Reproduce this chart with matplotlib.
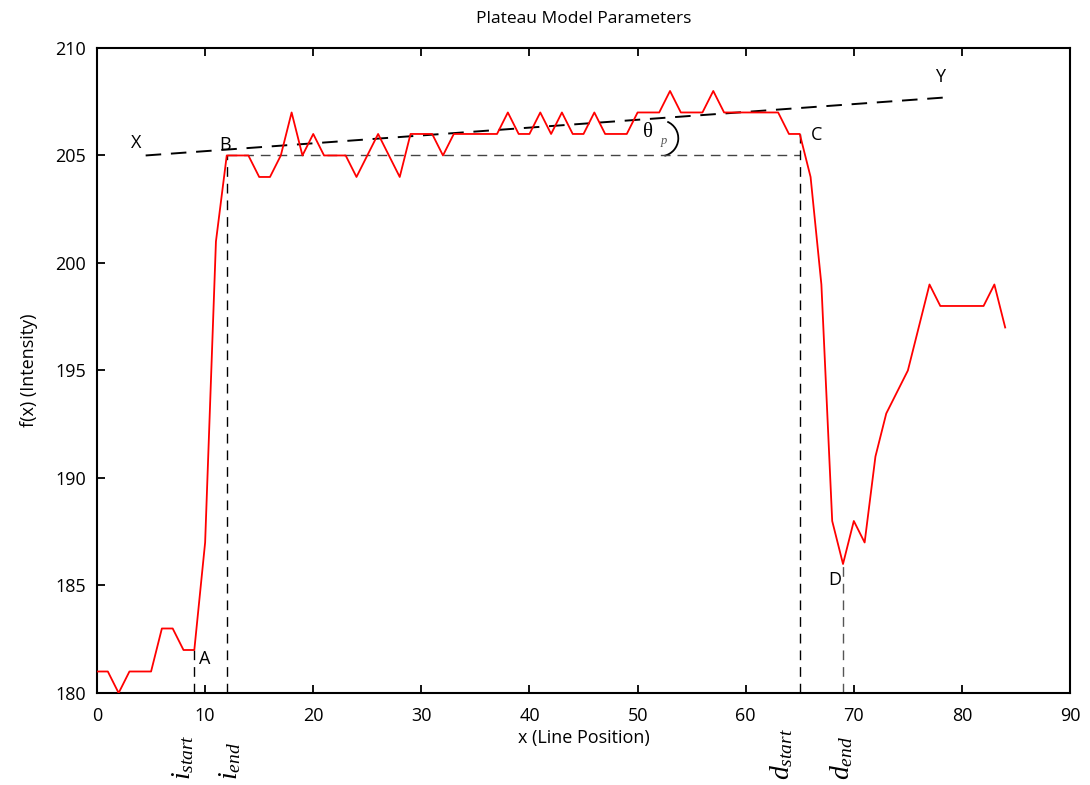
import matplotlib
matplotlib.use("Agg")
import matplotlib.pyplot as plt
from matplotlib.patches import Arc
import matplotlib.transforms as mtransforms

plt.rcParams['font.family'] = ['Open Sans', 'DejaVu Sans']
plt.rcParams['mathtext.fontset'] = 'custom'
plt.rcParams['mathtext.rm'] = 'Liberation Serif'
plt.rcParams['mathtext.it'] = 'Liberation Serif:italic'

# ---- data ----
x_pos = list(range(0, 85))
intensity = [181, 181, 180, 181, 181, 181, 183, 183, 182, 182,
             187, 201, 205, 205, 205, 204, 204, 205, 207, 205,
             206, 205, 205, 205, 204, 205, 206, 205, 204, 206,
             206, 206, 205, 206, 206, 206, 206, 206, 207, 206,
             206, 207, 206, 207, 206, 206, 207, 206, 206, 206,
             207, 207, 207, 208, 207, 207, 207, 208, 207, 207,
             207, 207, 207, 207, 206, 206, 204, 199, 188, 186,
             188, 187, 191, 193, 194, 195, 197, 199, 198, 198,
             198, 198, 198, 199, 197]

i_start, i_end = 9, 12
d_start, d_end = 65, 69
plateau_level = 205
xy_x = [4.5, 78.5]
xy_y = [205.0, 207.7]

x_ticks = [0, 10, 20, 30, 40, 50, 60, 70, 80, 90]
y_ticks = [180, 185, 190, 195, 200, 205, 210]

fig = plt.figure(figsize=(10.9, 7.85), dpi=100)
ax = fig.add_axes([0.089, 0.1172, 0.8927, 0.8217])

ax.plot(x_pos, intensity, color='red', lw=1.3, zorder=3)

# guide lines
ax.plot(xy_x, xy_y, color='black', lw=1.4, dashes=(8, 5), zorder=2)
ax.plot([i_end, d_start], [plateau_level, plateau_level], color='#444444', lw=1.0, dashes=(7, 5), zorder=2)
ax.plot([i_start, i_start], [180, intensity[i_start]], color='black', lw=1.0, dashes=(7, 5), zorder=2)
ax.plot([i_end, i_end], [180, intensity[i_end]], color='black', lw=1.0, dashes=(7, 5), zorder=2)
ax.plot([d_start, d_start], [180, intensity[d_start]], color='black', lw=1.0, dashes=(7, 5), zorder=2)
ax.plot([d_end, d_end], [180, intensity[d_end]], color='#555555', lw=1.0, dashes=(7, 5), zorder=2)

# point labels
lab_kw = dict(fontsize=13, ha='center', va='center', color='black')
ax.text(3.6, 205.6, 'X', **lab_kw)
ax.text(11.85, 205.5, 'B', **lab_kw)
ax.text(78.0, 208.65, 'Y', **lab_kw)
ax.text(66.6, 205.95, 'C', **lab_kw)
ax.text(10.0, 181.6, 'A', **lab_kw)
ax.text(68.2, 185.25, 'D', **lab_kw)

# theta annotation
ax.text(50.95, 206.05, 'θ', fontsize=15, family='Liberation Serif', ha='center', va='center')
ax.text(52.4, 205.65, 'p', fontsize=9, family='Liberation Serif', style='italic', color='#555555',
        ha='center', va='center')
arc = Arc((52.1, 205.8), width=2 * 18 / 10.81, height=2 * 18 / 21.5, theta1=-65, theta2=50,
          color='black', lw=1.3)
ax.add_patch(arc)

# rotated bottom labels
trans = mtransforms.blended_transform_factory(ax.transData, ax.transAxes)
bot_kw = dict(transform=trans, rotation=90, ha='center', va='bottom', fontsize=20, clip_on=False)
ax.text(7.95, -0.135, r'$i_{start}$', **bot_kw)
ax.text(12.3, -0.135, r'$i_{end}$', **bot_kw)
ax.text(63.4, -0.135, r'$d_{start}$', **bot_kw)
ax.text(68.9, -0.135, r'$d_{end}$', **bot_kw)

ax.set_xlim(0, 90)
ax.set_ylim(180, 210)
ax.set_xticks(x_ticks)
ax.set_yticks(y_ticks)
ax.tick_params(axis='both', direction='in', length=6, width=1.3, labelsize=13)
ax.tick_params(axis='x', pad=10, top=True)
ax.tick_params(axis='y', pad=8, right=False)
for s in ax.spines.values():
    s.set_linewidth(1.5)

ax.set_xlabel('x (Line Position)', fontsize=13, labelpad=3)
ax.set_ylabel('f(x) (Intensity)', fontsize=13, labelpad=12)
ax.set_title('Plateau Model Parameters', fontsize=12.5, pad=18)

fig.savefig('out.png', dpi=100)
